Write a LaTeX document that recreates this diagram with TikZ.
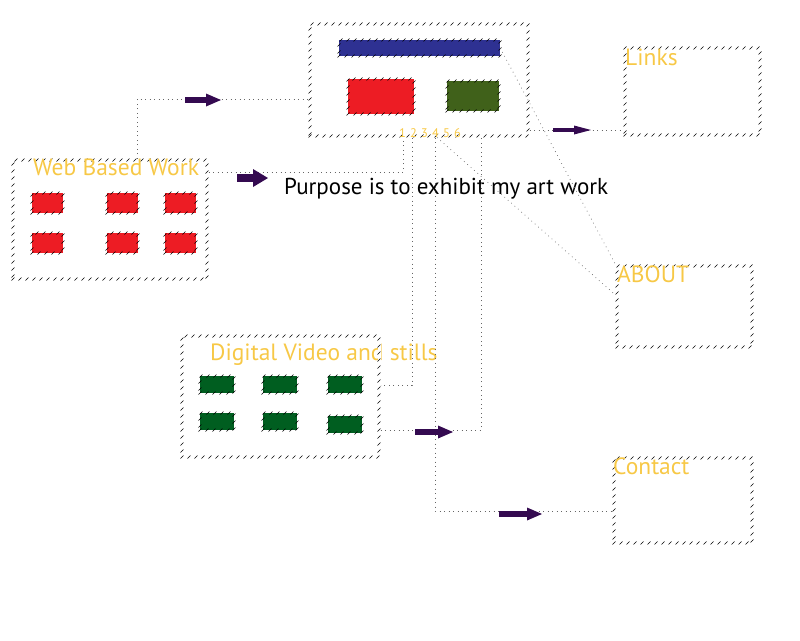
\documentclass[tikz,border=0pt]{standalone}
\usepackage{fontspec}
\setmainfont{PT Sans}
\usetikzlibrary{arrows.meta,decorations.markings}
\definecolor{titleyellow}{RGB}{247,200,70}
\definecolor{pushpurple}{RGB}{52,10,80}
\definecolor{barblue}{RGB}{46,49,146}
\definecolor{boxred}{RGB}{237,28,36}
\definecolor{boxolive}{RGB}{64,97,26}
\definecolor{boxgreen}{RGB}{0,94,32}

\begin{document}
\begin{tikzpicture}[x=1pt,y=-1pt,
    hatch/.style={postaction={decorate,decoration={markings,
      mark=between positions 0 and 1 step 7pt with {\pgftransformresetnontranslations
        \draw[line width=0.6pt,black] (-1.5pt,-1.5pt) -- (1.5pt,1.5pt);}}}},
    page box/.style={rectangle,draw=white,line width=3pt,hatch,inner sep=0pt},
    thumb/.style={rectangle,fill=#1,draw=none,hatch,inner sep=0pt},
    title/.style={anchor=base west,inner sep=0pt,text=titleyellow,font=\fontsize{23.5}{28}\selectfont},
    link/.style={draw=black!60,line width=0.7pt,dash pattern=on 0.7pt off 3.8pt},
    push/.style={draw=pushpurple,line width=#1,-{Triangle[length=15pt,width=13pt,line width=0pt]}},
    push/.default=5.5pt]

  \useasboundingbox (0,0) rectangle (800,640);

  % video title sits under its box, the border hides part of it
  \node[title] (videotitle) at (210,360) {Digital Video and stills};

  \node[page box,minimum width=218pt,minimum height=112pt] (main) at (419,80) {};
  \node[page box,minimum width=194pt,minimum height=119pt] (web) at (110,219.5) {};
  \node[page box,minimum width=197pt,minimum height=121pt] (video) at (280.5,396.5) {};
  \node[page box,minimum width=135pt,minimum height=87pt] (links) at (692.5,91.5) {};
  \node[page box,minimum width=135pt,minimum height=81pt] (about) at (684.5,306.5) {};
  \node[page box,minimum width=138pt,minimum height=85pt] (contact) at (683,500.5) {};

  \node[thumb=barblue,minimum width=161pt,minimum height=16pt] (bar) at (419.5,48) {};
  \node[thumb=boxred,minimum width=66pt,minimum height=35pt] (hero) at (381,96.5) {};
  \node[thumb=boxolive,minimum width=52pt,minimum height=30pt] (side) at (473,96) {};

  \foreach \x [count=\i] in {47.5,122.5,180.5}
    \foreach \y [count=\j] in {203,243}
      \node[thumb=boxred,minimum width=31pt,minimum height=20pt] (web\j\i) at (\x,\y) {};

  \foreach \x/\y [count=\i] in {217/384.5,280/384.5,345/384.5,217/421.5,280/421.5,345/424.5}
    \node[thumb=boxgreen,minimum width=34pt,minimum height=17pt] (clip\i) at (\x,\y) {};

  \node[title] (webtitle) at (33,175) {Web Based Work};
  \node[title] (linkstitle) at (625,65) {Links};
  \node[title] (abouttitle) at (617,282) {ABOUT};
  \node[title] (contacttitle) at (613,474) {Contact};
  \node[anchor=base west,inner sep=0pt,text=titleyellow,font=\fontsize{12.5}{14}\selectfont] (pages) at (399,137) {1\,\,2\,\,3\,\,4\,\,5\,\,6};
  \node[anchor=base west,inner sep=0pt,font=\fontsize{23}{28}\selectfont] (purpose) at (284,194) {Purpose is to exhibit my art work};

  \draw[link] ([xshift=27pt]web.north) |- ([yshift=-19pt]main.west);
  \draw[link] ([yshift=47.5pt]web.east) -| ([xshift=-16pt]main.south);
  \draw[link] ([xshift=-7pt]main.south) |- ([yshift=11.5pt]video.east);
  \draw[link] ([xshift=16pt]main.south) |- ([yshift=-10.5pt]contact.west);
  \draw[link] ([yshift=-33.5pt]video.east) -| ([xshift=62pt]main.south);
  \draw[link] ([yshift=-50pt]main.east) -- ([yshift=-38.5pt]links.west);
  \draw[link] (bar.east) -- (about.north west);
  \draw[link] ([xshift=18pt]main.south) -- ([yshift=11.5pt]about.west);

  \draw[push] (185,100) -- (221,100);
  \draw[push=8pt,-{Triangle[length=15pt,width=18pt,line width=0pt]}] (237,178) -- (268,178);
  \draw[push=4.5pt,-{Triangle[length=17pt,width=9pt,line width=0pt]}] (553,130) -- (591,130);
  \draw[push] (415,432) -- (453,432);
  \draw[push] (499,514) -- (542,514);
\end{tikzpicture}
\end{document}
